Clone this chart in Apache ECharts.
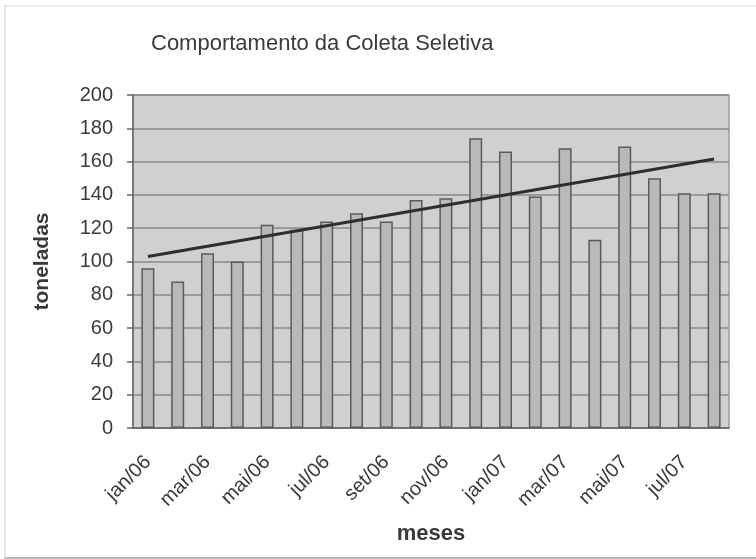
<!DOCTYPE html>
<html>
<head>
<meta charset="utf-8">
<script src="https://cdn.jsdelivr.net/npm/echarts@6/dist/echarts.min.js"></script>
<style>
	html, body { margin: 0; padding: 0; background: #fff; }
	#frame { position: absolute; left: 4px; top: 5px; width: 760px; height: 550px;
		border-left: 2px solid #e4e4e4; border-top: 2px solid #ececec; border-bottom: 2px solid #b8b8b8; }
	#chart { width: 756px; height: 559px; position: absolute; left: 0; top: 0; }
</style>
</head>
<body>
<div id="frame"></div>
<div id="chart"></div>
<script>
// meses e toneladas coletadas
var meses = ['jan/06', 'fev/06', 'mar/06', 'abr/06', 'mai/06', 'jun/06', 'jul/06', 'ago/06', 'set/06', 'out/06',
	'nov/06', 'dez/06', 'jan/07', 'fev/07', 'mar/07', 'abr/07', 'mai/07', 'jun/07', 'jul/07', 'ago/07'];
var toneladas = [96, 88, 105, 100, 122, 119, 124, 129, 124, 137,
	138, 174, 166, 139, 168, 113, 169, 150, 141, 141];
// linha de tendencia (inicio e fim)
var tendenciaInicio = 103;
var tendenciaFim = 161.5;

var fonte = '"Liberation Sans", Arial, sans-serif';

var chart = echarts.init(document.getElementById('chart'));
var option = {
	animation : false,
	title : {
		text : 'Comportamento da Coleta Seletiva',
		left : 146,
		top : 28,
		textStyle : {
			fontFamily : fonte,
			fontSize : 22,
			fontWeight : 'normal',
			color : '#3a3a3a'
		}
	},
	grid : {
		left : 133,
		right : 27,
		top : 95,
		bottom : 131,
		show : true,
		backgroundColor : '#d0d0d0',
		borderColor : '#9a9a9a',
		borderWidth : 1.5
	},
	xAxis : {
		type : 'category',
		data : meses,
		name : 'meses',
		nameLocation : 'middle',
		nameGap : 95,
		nameTextStyle : {
			fontFamily : fonte,
			fontSize : 22,
			fontWeight : 'bold',
			color : '#3a3a3a'
		},
		axisLine : { lineStyle : { color : '#666', width : 1.5 } },
		axisTick : { interval : 1, length : 6, lineStyle : { color : '#666', width : 1.5 } },
		axisLabel : {
			interval : 1,
			rotate : 45,
			margin : 31,
			fontFamily : fonte,
			fontSize : 20,
			color : '#3a3a3a'
		}
	},
	yAxis : {
		type : 'value',
		min : 0,
		max : 200,
		interval : 20,
		name : 'toneladas',
		nameLocation : 'middle',
		nameGap : 80,
		nameTextStyle : {
			fontFamily : fonte,
			fontSize : 21,
			fontWeight : 'bold',
			color : '#3a3a3a'
		},
		axisLine : { show : true, lineStyle : { color : '#666', width : 1.5 } },
		axisTick : { show : true, length : 6, lineStyle : { color : '#666', width : 1.5 } },
		axisLabel : {
			margin : 20,
			fontFamily : fonte,
			fontSize : 20,
			color : '#3a3a3a'
		},
		splitLine : { lineStyle : { color : '#888', width : 1.5 } }
	},
	series : [ {
		name : 'toneladas',
		type : 'bar',
		barWidth : 13,
		data : toneladas,
		itemStyle : {
			color : '#b9b9b9',
			borderColor : '#5a5a5a',
			borderWidth : 1.5
		},
		markLine : {
			silent : true,
			symbol : 'none',
			label : { show : false },
			lineStyle : { color : '#2e2e2e', width : 3, type : 'solid' },
			data : [ [ { coord : [ meses[0], tendenciaInicio ] },
				{ coord : [ meses[meses.length - 1], tendenciaFim ] } ] ]
		}
	} ]
};
chart.setOption(option);
</script>
</body>
</html>
